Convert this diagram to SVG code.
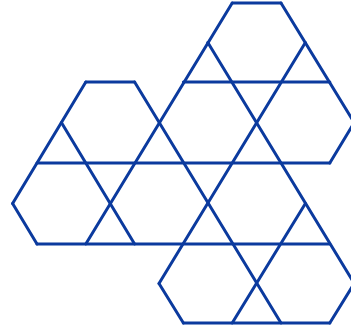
<svg xmlns="http://www.w3.org/2000/svg" width="351" height="334" viewBox="0 0 351 334">
  <style>
    .ln { fill: none; stroke: #0b3a9e; stroke-width: 3; stroke-linecap: round; stroke-linejoin: round; }
  </style>
  <rect width="351" height="334" fill="#ffffff"/>
  <g id="horizontal-lines" class="ln">
    <path d="M232.2,3 H281"/>
    <path d="M85.8,82 H134.6"/>
    <path d="M183.4,82 H329.8"/>
    <path d="M37,163 H329.8"/>
    <path d="M37,244 H329.8"/>
    <path d="M183.4,323 H329.8"/>
  </g>
  <g id="rising-lines" class="ln">
    <path d="M85.8,82 L12.6,203.5"/>
    <path d="M232.2,3 L85.8,244"/>
    <path d="M305.4,42.5 L159,283.5"/>
    <path d="M354.2,122.5 L329.8,163"/>
    <path d="M305.4,203.5 L232.2,323"/>
    <path d="M354.2,283.5 L329.8,323"/>
  </g>
  <g id="falling-lines" class="ln">
    <path d="M12.6,203.5 L37,244"/>
    <path d="M61.4,122.5 L134.6,244"/>
    <path d="M159,283.5 L183.4,323"/>
    <path d="M134.6,82 L281,323"/>
    <path d="M207.8,42.5 L354.2,283.5"/>
    <path d="M281,3 L354.2,122.5"/>
  </g>
</svg>
